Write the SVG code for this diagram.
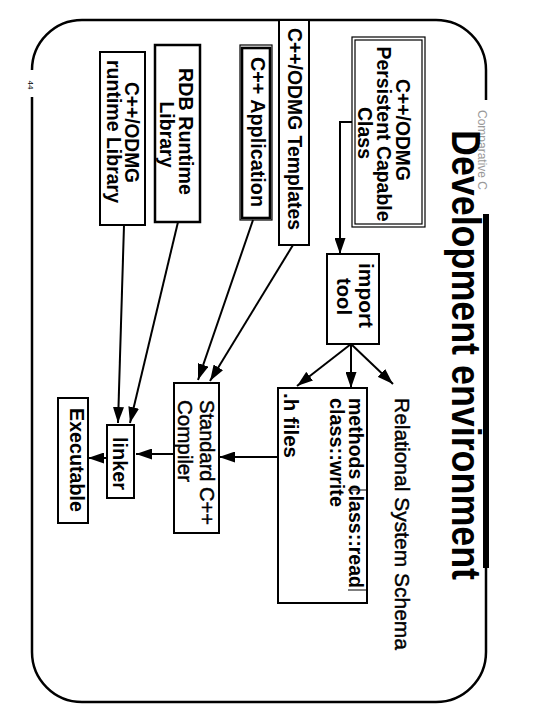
<svg xmlns="http://www.w3.org/2000/svg" width="540" height="720" viewBox="0 0 540 720">
<style>
.box{fill:#fff;stroke:#000;stroke-width:2}
.thin{fill:none;stroke:#000;stroke-width:1.2}
.thick{fill:none;stroke:#000;stroke-width:2.6}
.t{font-family:"Liberation Sans",Arial,Helvetica,sans-serif;font-weight:bold;font-size:19.5px;fill:#000}
.m{text-anchor:middle}
.r{font-weight:normal;stroke:#000;stroke-width:0.45}
.conn{fill:none;stroke:#000;stroke-width:2;marker-end:url(#ah)}
.frame{fill:none;stroke:#000;stroke-width:2.5}
</style>
<defs>
<marker id="ah" markerUnits="userSpaceOnUse" markerWidth="16" markerHeight="11" refX="16" refY="5.5" orient="auto"><path d="M0,0 L16,5.5 L0,11 z" fill="#000"/></marker>
</defs>
<rect width="540" height="720" fill="#fff"/>
<g transform="translate(540,0) rotate(90)">
  <g id="frame">
    <path class="frame" d="M100,54 H70 A50,50 0 0 0 20,104 V458 A50,50 0 0 0 70,508"/>
    <path class="frame" d="M97,508 H652 A50,50 0 0 0 702,458 V104 A50,50 0 0 0 652,54 H565"/>
    <path fill="none" stroke="#000" stroke-width="6" d="M214,54 H568"/>
    <text x="110" y="62" style="font-family:'Liberation Sans',Arial,sans-serif;font-size:12px;fill:#999">Comparative C</text>
    <text class="t m" x="85" y="512" style="font-size:8px;font-weight:normal">44</text>
  </g>
  <g id="title">
    <text class="t" x="130" y="88" style="font-size:40px" textLength="450" lengthAdjust="spacingAndGlyphs">Development environment</text>
  </g>
  <g id="connectors">
    <path class="conn" d="M122,188 V200 H254"/>
    <path class="conn" d="M344,189 L386,243"/>
    <path class="conn" d="M344,189 L388,189"/>
    <path class="conn" d="M344,189 L384,147"/>
    <path class="conn" d="M457,262 L457,321"/>
    <path class="conn" d="M454,366 L454,404"/>
    <path class="conn" d="M458,433 L458,452"/>
    <path class="conn" d="M220,287 L380,342"/>
    <path class="conn" d="M245,247 L381,330"/>
    <path class="conn" d="M222,362 L423,410"/>
    <path class="conn" d="M225,416 L423,422"/>
  </g>
  <g id="persistent-class">
    <rect class="thin" x="37" y="115" width="190" height="73"/>
    <rect class="thin" x="40" y="118" width="184" height="67"/>
    <text class="t m" x="130" y="144" textLength="102" lengthAdjust="spacingAndGlyphs">C++/ODMG</text>
    <text class="t m" x="134" y="163" textLength="175" lengthAdjust="spacingAndGlyphs">Persistent Capable</text>
    <text class="t m" x="133" y="182">Class</text>
  </g>
  <g id="templates">
    <rect class="box" x="20" y="231" width="225" height="30"/>
    <text class="t" x="28" y="252" textLength="202" lengthAdjust="spacingAndGlyphs">C++/ODMG Templates</text>
  </g>
  <g id="application">
    <rect class="thin" x="45" y="268" width="175" height="32"/>
    <rect class="thick" x="48" y="270" width="170" height="28"/>
    <text class="t m" x="132" y="289" textLength="150" lengthAdjust="spacingAndGlyphs">C++ Application</text>
  </g>
  <g id="rdb-library">
    <rect class="box" x="45" y="340" width="177" height="45" style="stroke-width:2.5"/>
    <text class="t m" x="131.5" y="361" textLength="127" lengthAdjust="spacingAndGlyphs">RDB Runtime</text>
    <text class="t m" x="134.5" y="380">Library</text>
  </g>
  <g id="odmg-runtime">
    <rect class="box" x="52" y="395" width="173" height="45"/>
    <text class="t m" x="132.5" y="415" textLength="101" lengthAdjust="spacingAndGlyphs">C++/ODMG</text>
    <text class="t m" x="131.5" y="433" textLength="143" lengthAdjust="spacingAndGlyphs">runtime Library</text>
  </g>
  <g id="import-tool">
    <rect class="box" x="254" y="161" width="90" height="52"/>
    <text class="t" x="263" y="181" style="font-size:20px" textLength="65" lengthAdjust="spacingAndGlyphs">import</text>
    <text class="t" x="278" y="203" style="font-size:20px" textLength="37" lengthAdjust="spacingAndGlyphs">tool</text>
  </g>
  <g id="relational-schema">
    <text class="t r" x="398" y="145" style="font-size:21px" textLength="252" lengthAdjust="spacingAndGlyphs">Relational System Schema</text>
  </g>
  <g id="h-files">
    <rect class="box" x="388" y="173" width="215" height="89"/>
    <text class="t" x="398" y="191" textLength="190" lengthAdjust="spacingAndGlyphs">methods class::read</text>
    <path class="thin" d="M490,173 V192 M590,173 V192"/>
    <text class="t" x="398" y="210" textLength="109" lengthAdjust="spacingAndGlyphs">class::write</text>
    <text class="t" x="393" y="256" textLength="65" lengthAdjust="spacingAndGlyphs">.h files</text>
  </g>
  <g id="compiler">
    <rect class="box" x="383" y="321" width="150" height="45"/>
    <text class="t r" x="400" y="340" style="font-size:20px" textLength="125" lengthAdjust="spacingAndGlyphs">Standard C++</text>
    <text class="t r" x="400" y="362" style="font-size:20px" textLength="82" lengthAdjust="spacingAndGlyphs">Compiler</text>
  </g>
  <g id="linker">
    <rect class="box" x="425" y="406" width="73" height="27"/>
    <text class="t" x="437" y="427" textLength="53" lengthAdjust="spacingAndGlyphs">linker</text>
  </g>
  <g id="executable">
    <rect class="box" x="398" y="452" width="125" height="30"/>
    <text class="t" x="408" y="470" textLength="104" lengthAdjust="spacingAndGlyphs">Executable</text>
  </g>
</g>
</svg>
